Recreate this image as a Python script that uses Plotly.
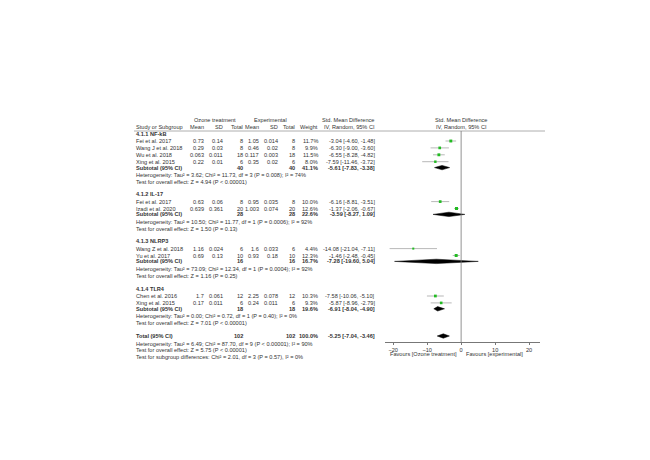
import plotly.graph_objects as go

# ---------------- data ----------------
groups = ["4.1.1 NF-kB", "4.1.2 IL-17", "4.1.3 NLRP3", "4.1.4 TLR4"]
study_names = [["Fei et al. 2017", "Wang J et al. 2018", "Wu et al. 2018", "Xing et al. 2015"],
               ["Fei et al. 2017", "Izadi et al. 2020"],
               ["Wang Z et al. 2018", "Yu et al. 2017"],
               ["Chen et al. 2016", "Xing et al. 2015"]]
oz_mean = [["0.73", "0.29", "0.063", "0.22"], ["0.63", "0.639"], ["1.16", "0.69"], ["1.7", "0.17"]]
oz_sd = [["0.14", "0.03", "0.011", "0.01"], ["0.06", "0.361"], ["0.024", "0.13"], ["0.061", "0.011"]]
oz_n = [[8, 8, 18, 6], [8, 20], [6, 10], [12, 6]]
ex_mean = [["1.05", "0.46", "0.117", "0.35"], ["0.95", "1.003"], ["1.6", "0.93"], ["2.25", "0.24"]]
ex_sd = [["0.014", "0.02", "0.003", "0.02"], ["0.035", "0.074"], ["0.033", "0.18"], ["0.078", "0.011"]]
ex_n = [[8, 8, 18, 6], [8, 20], [6, 10], [12, 6]]
weights = [[11.7, 9.9, 11.5, 8.0], [10.0, 12.6], [4.4, 12.3], [10.3, 9.3]]
smd = [[-3.04, -6.30, -6.55, -7.59], [-6.16, -1.37], [-14.08, -1.46], [-7.58, -5.87]]
lo = [[-4.60, -9.00, -8.28, -11.46], [-8.81, -2.06], [-21.04, -2.48], [-10.06, -8.96]]
hi = [[-1.48, -3.60, -4.82, -3.72], [-3.51, -0.67], [-7.11, -0.45], [-5.10, -2.79]]
sub_n = [40, 28, 16, 18]
sub_w = [41.1, 22.6, 16.7, 19.6]
sub_smd = [-5.61, -3.59, -7.28, -6.91]
sub_lo = [-7.83, -8.27, -19.60, -8.04]
sub_hi = [-3.38, 1.09, 5.04, -4.90]
sub_het = ["Heterogeneity: Tau² = 3.62; Chi² = 11.73, df = 3 (P = 0.008); I² = 74%",
           "Heterogeneity: Tau² = 10.50; Chi² = 11.77, df = 1 (P = 0.0006); I² = 92%",
           "Heterogeneity: Tau² = 73.09; Chi² = 12.34, df = 1 (P = 0.0004); I² = 92%",
           "Heterogeneity: Tau² = 0.00; Chi² = 0.72, df = 1 (P = 0.40); I² = 0%"]
sub_test = ["Test for overall effect: Z = 4.94 (P < 0.00001)",
            "Test for overall effect: Z = 1.50 (P = 0.13)",
            "Test for overall effect: Z = 1.16 (P = 0.25)",
            "Test for overall effect: Z = 7.01 (P < 0.00001)"]
tot_n = 102
tot_smd, tot_lo, tot_hi = -5.25, -7.04, -3.46
tot_lines = ["Heterogeneity: Tau² = 6.49; Chi² = 87.70, df = 9 (P < 0.00001); I² = 90%",
             "Test for overall effect: Z = 5.75 (P < 0.00001)",
             "Test for subgroup differences: Chi² = 2.01, df = 3 (P = 0.57), I² = 0%"]
tick_vals = [-20, -10, 0, 10, 20]

# ---------------- layout helpers ----------------
W, H = 650, 460
FS = 5.6
COL = "#333"
fig = go.Figure()
ann = []

def txt(xpx, y, s, anchor="left", bold=False):
    ann.append(dict(x=xpx / W, y=y, xref="paper", yref="y", text=("<b>%s</b>" % s) if bold else s,
                    showarrow=False, xanchor=anchor, yanchor="middle",
                    font=dict(size=FS, color=COL, family="Liberation Sans")))

def fmt_ci(m, l, h):
    return "%.2f [%.2f, %.2f]" % (m, l, h)

def diamond(m, l, h, y):
    fig.add_trace(go.Scatter(x=[l, m, h, m, l], y=[y, y - 2.2, y, y + 2.2, y], mode="lines",
                             fill="toself", fillcolor="black", line=dict(color="black", width=0.5),
                             hoverinfo="skip", cliponaxis=False))

X_NAME, X_OM, X_OS, X_ON, X_EM, X_ES, X_EN, X_W, X_CI = 126, 198, 217, 237, 253, 272, 289, 312, 369

txt(207, 112, "Ozone treatment", "center")
txt(262, 112, "Experimental", "center")
txt(340, 112, "Std. Mean Difference", "center")
txt(453, 112, "Std. Mean Difference", "center")
txt(X_NAME, 119, "Study or Subgroup")
for xp, s in [(X_OM, "Mean"), (X_OS, "SD"), (X_ON, "Total"), (X_EM, "Mean"), (X_ES, "SD"),
              (X_EN, "Total"), (X_W, "Weight"), (X_CI, "IV, Random, 95% CI")]:
    txt(xp, 119, s, "right")
txt(453, 119, "IV, Random, 95% CI", "center")

group_top = [125.7, 186.3, 233.3, 280.7]
ROW = 6.9
for g in range(len(groups)):
    y = group_top[g]
    txt(X_NAME, y, groups[g], bold=True)
    y += 7.3
    for i in range(len(study_names[g])):
        txt(X_NAME, y, study_names[g][i])
        txt(X_OM, y, oz_mean[g][i], "right"); txt(X_OS, y, oz_sd[g][i], "right")
        txt(X_ON, y, str(oz_n[g][i]), "right"); txt(X_EM, y, ex_mean[g][i], "right")
        txt(X_ES, y, ex_sd[g][i], "right"); txt(X_EN, y, str(ex_n[g][i]), "right")
        txt(X_W, y, "%.1f%%" % weights[g][i], "right")
        txt(X_CI, y, fmt_ci(smd[g][i], lo[g][i], hi[g][i]), "right")
        fig.add_trace(go.Scatter(x=[lo[g][i], hi[g][i]], y=[y, y], mode="lines",
                                 line=dict(color="#888", width=0.6), hoverinfo="skip", cliponaxis=False))
        fig.add_trace(go.Scatter(x=[smd[g][i]], y=[y], mode="markers",
                                 marker=dict(symbol="square", size=1.5 + weights[g][i] * 0.12, color="#22bb22"),
                                 hoverinfo="skip"))
        y += ROW
    y -= 1
    txt(X_NAME, y, "Subtotal (95% CI)", bold=True)
    txt(X_ON, y, str(sub_n[g]), "right", True); txt(X_EN, y, str(sub_n[g]), "right", True)
    txt(X_W, y, "%.1f%%" % sub_w[g], "right", True)
    txt(X_CI, y, fmt_ci(sub_smd[g], sub_lo[g], sub_hi[g]), "right", True)
    diamond(sub_smd[g], sub_lo[g], sub_hi[g], y)
    y += 7.5
    txt(X_NAME, y, sub_het[g])
    txt(X_NAME, y + 6.7, sub_test[g])

yt = 328
txt(X_NAME, yt, "Total (95% CI)", bold=True)
txt(X_ON, yt, str(tot_n), "right", True); txt(X_EN, yt, str(tot_n), "right", True)
txt(X_W, yt, "100.0%", "right", True)
txt(X_CI, yt, fmt_ci(tot_smd, tot_lo, tot_hi), "right", True)
diamond(tot_smd, tot_lo, tot_hi, yt)
for k, s in enumerate(tot_lines):
    txt(X_NAME, 335.7 + 6.65 * k, s)

txt(451, 345.5, "Favours [Ozone treatment]", "right")
txt(456, 345.5, "Favours [experimental]", "left")

shapes = [dict(type="line", xref="paper", yref="y", x0=126 / W, x1=537 / W, y0=123, y1=123,
               line=dict(color="#999", width=0.8)),
          dict(type="line", xref="x", yref="y", x0=0, x1=0, y0=123, y1=334,
               line=dict(color="#777", width=0.8))]

fig.update_layout(
    width=W, height=H, margin=dict(l=0, r=0, t=0, b=0), showlegend=False,
    paper_bgcolor="white", plot_bgcolor="white", annotations=ann, shapes=shapes,
    xaxis=dict(domain=[377 / W, 532 / W], range=[-22.4, 23.2], tickvals=tick_vals,
               anchor="free", position=(H - 334) / H,
               showgrid=False, zeroline=False, showline=True, linecolor="#777", linewidth=0.8,
               ticks="outside", ticklen=2, tickcolor="#777",
               tickfont=dict(size=FS, color=COL, family="Liberation Sans")),
    yaxis=dict(domain=[0, 1], range=[H, 0], visible=False,
               showgrid=False, zeroline=False),
)
fig.write_html("out.html")
